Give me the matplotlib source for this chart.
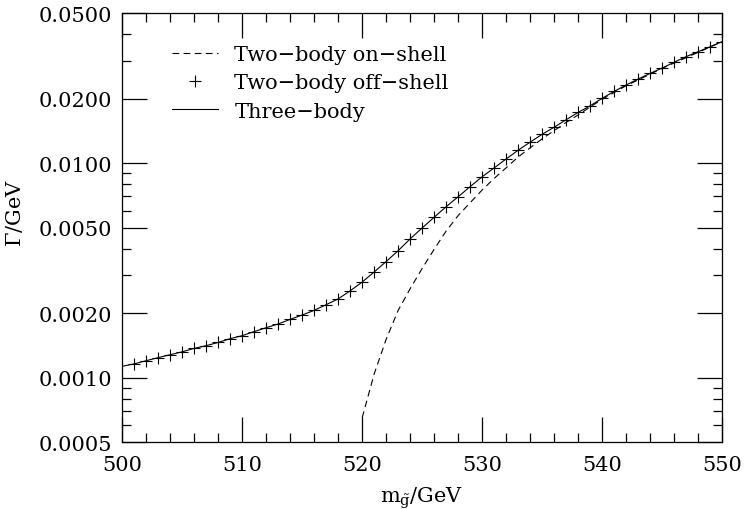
"""
Gluino decay width: two-body on-shell, two-body off-shell and three-body.
"""

import matplotlib
matplotlib.use("Agg")
import matplotlib.pyplot as plt
from matplotlib.ticker import FixedLocator, FormatStrFormatter, NullFormatter


# three-body width, read every 1 GeV from 500 to 550
three_body_mass = list(range(500, 551))
three_body_width = [
    0.00113, 0.00116, 0.00120, 0.00124, 0.00128, 0.00132, 0.00137, 0.00141,
    0.00146, 0.00152, 0.00157, 0.00164, 0.00171, 0.00178, 0.00187, 0.00196,
    0.00206, 0.00219, 0.00233, 0.00254, 0.00279, 0.00311, 0.00348, 0.00391,
    0.00444, 0.00499, 0.00560, 0.00627, 0.00698, 0.00778, 0.00865, 0.00951,
    0.01047, 0.01150, 0.01254, 0.01365, 0.01472, 0.01596, 0.01726, 0.01853,
    0.02009, 0.02163, 0.02317, 0.02470, 0.02624, 0.02780, 0.02958, 0.03141,
    0.03313, 0.03493, 0.03690,
]

# two-body off-shell, crosses from 501 to 550
off_shell_mass = list(range(501, 551))
off_shell_width = [
    0.00116, 0.00120, 0.00124, 0.00128, 0.00132, 0.00137, 0.00141,
    0.00146, 0.00152, 0.00157, 0.00164, 0.00171, 0.00178, 0.00187, 0.00196,
    0.00206, 0.00219, 0.00233, 0.00254, 0.00279, 0.00311, 0.00348, 0.00391,
    0.00444, 0.00499, 0.00560, 0.00627, 0.00698, 0.00778, 0.00865, 0.00951,
    0.01047, 0.01150, 0.01254, 0.01365, 0.01472, 0.01596, 0.01726, 0.01853,
    0.02009, 0.02163, 0.02317, 0.02470, 0.02624, 0.02780, 0.02958, 0.03141,
    0.03313, 0.03493, 0.03690,
]

# two-body on-shell, opens at threshold ~520 GeV
on_shell_mass = [520, 521, 522, 523, 524, 525, 526, 527, 528, 529, 530, 531,
                 532, 533, 534, 535, 536, 537, 538, 539, 540, 542, 545, 550]
on_shell_width = [0.00065, 0.00104, 0.00151, 0.00206, 0.00260, 0.00323,
                  0.00397, 0.00483, 0.00570, 0.00655, 0.00750, 0.00850,
                  0.00952, 0.01070, 0.01180, 0.01300, 0.01420, 0.01550,
                  0.01680, 0.01830, 0.01985, 0.02300, 0.02770, 0.03690]

y_major = [0.0005, 0.0010, 0.0020, 0.0050, 0.0100, 0.0200, 0.0500]
y_minor = [0.0006, 0.0007, 0.0008, 0.0009, 0.003, 0.004,
           0.006, 0.007, 0.008, 0.009, 0.03, 0.04]

字号 = 15


def set_style():
    plt.rcParams["font.family"] = ["DejaVu Serif"]
    plt.rcParams["mathtext.fontset"] = "dejavuserif"
    plt.rcParams["font.size"] = 字号
    plt.rcParams["axes.linewidth"] = 0.9


def plot_width():
    set_style()
    fig = plt.figure(figsize=(7.45, 5.1), dpi=100)
    ax = fig.add_axes([0.1638, 0.1308, 0.8057, 0.8412])

    ax.plot(on_shell_mass, on_shell_width, color="black", linewidth=0.8,
            linestyle=(0, (6, 4)), label="Two−body on−shell")
    ax.plot(off_shell_mass, off_shell_width, linestyle="none", marker="+",
            markersize=8, markeredgewidth=0.8, color="black",
            label="Two−body off−shell")
    ax.plot(three_body_mass, three_body_width, color="black", linewidth=0.8,
            label="Three−body")

    ax.set_yscale("log")
    ax.set_xlim(500, 550)
    ax.set_ylim(0.0005, 0.05)

    ax.xaxis.set_major_locator(FixedLocator(range(500, 551, 10)))
    ax.xaxis.set_minor_locator(FixedLocator(range(500, 551, 2)))
    ax.yaxis.set_major_locator(FixedLocator(y_major))
    ax.yaxis.set_minor_locator(FixedLocator(y_minor))
    ax.yaxis.set_major_formatter(FormatStrFormatter("%.4f"))
    ax.yaxis.set_minor_formatter(NullFormatter())

    ax.tick_params(which="both", direction="in", top=True, right=True,
                   width=0.9, labelsize=字号)
    ax.tick_params(which="major", length=18)
    ax.tick_params(which="minor", length=6.7)
    ax.tick_params(axis="x", pad=9)
    ax.tick_params(axis="y", pad=7)

    ax.set_xlabel(r"$\mathrm{m}_{\tilde{\mathrm{g}}}$/GeV", fontsize=字号)
    ax.set_ylabel(r"$\Gamma$/GeV", fontsize=字号)
    ax.xaxis.set_label_coords(0.5, -0.098)
    ax.yaxis.set_label_coords(-0.162, 0.537)

    ax.legend(loc="upper left", bbox_to_anchor=(0.083, 0.926), frameon=False,
              borderpad=0, borderaxespad=0, handlelength=2.2,
              handletextpad=0.8, labelspacing=0.45, fontsize=字号)

    fig.savefig("out.png", dpi=100)
    plt.close(fig)


if __name__ == "__main__":
    plot_width()
